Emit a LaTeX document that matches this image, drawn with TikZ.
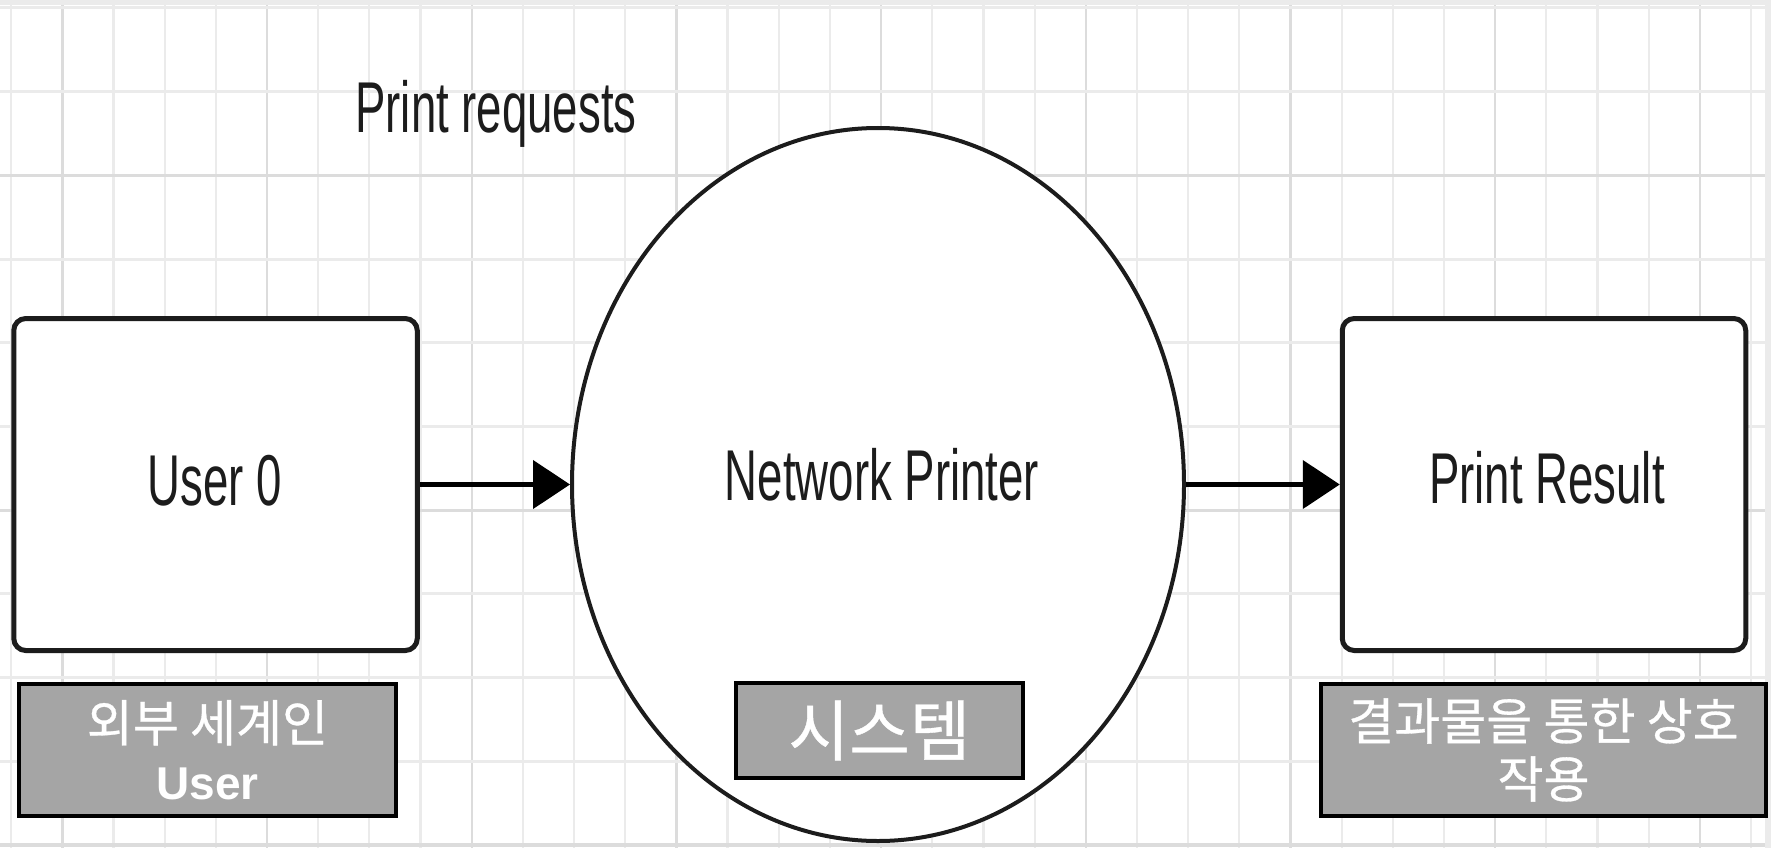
\documentclass[tikz,border=0pt]{standalone}
\usepackage{fontspec}
\setmainfont{Liberation Sans}
\newfontfamily\krfont{Noto Sans CJK KR}[FakeBold=0.6]
\usetikzlibrary{shapes.geometric, arrows.meta}
\definecolor{gridminor}{HTML}{EBEBEB}
\definecolor{gridmajor}{HTML}{DCDCDC}
\definecolor{labelgrey}{HTML}{A5A5A5}
\definecolor{ink}{HTML}{1C1C1C}
\begin{document}
\begin{tikzpicture}[x=1pt,y=-1pt,
  ent/.style={draw=ink, line width=5pt, rounded corners=12pt, fill=white,
    minimum width=403.5pt, minimum height=332pt, inner sep=0pt},
  proc/.style={ellipse, draw=ink, line width=4pt, fill=white,
    minimum width=612pt, minimum height=713pt, inner sep=0pt},
  flow/.style={draw=black, line width=4.5pt, -{Triangle[length=37pt,width=48pt]}},
  basetext/.style={text=ink, font=\fontsize{72}{86}\selectfont, inner sep=0pt, anchor=base},
  tag/.style={draw=black, line width=4.3pt, fill=labelgrey, text=white, inner sep=0pt,
    align=center, font=\fontsize{50}{58}\selectfont},
]
\fill[white] (0,0) rectangle (1771,848);
\useasboundingbox (0,0) rectangle (1771,848);
% grid
\foreach \k in {0,...,34}
  \draw[gridminor, line width=2.2pt] ({11.2+51.17*\k},0) -- ({11.2+51.17*\k},848);
\foreach \k in {1,5,...,33}
  \draw[gridmajor, line width=2.4pt] ({11.2+51.17*\k},0) -- ({11.2+51.17*\k},848);
\foreach \j in {0,...,10}
  \draw[gridminor, line width=3pt] (0,{8+83.7*\j}) -- (1771,{8+83.7*\j});
\foreach \j in {2,6,10}
  \draw[gridmajor, line width=3.2pt] (0,{8+83.7*\j}) -- (1771,{8+83.7*\j});
\fill[gridminor] (0,0) rectangle (1771,5);
\fill[gridminor] (1765,0) rectangle (1771,848);

% shapes
\node[ent] (user) at (215.5,484.5) {};
\node[proc] (printer) at (878,484.5) {};
\node[ent] (result) at (1544,484.5) {};

% texts
\node[basetext] (reqlabel) at (496,132) {\scalebox{0.633}[1]{Print requests}};
\node[basetext] (usertext) at (215,505) {\scalebox{0.633}[1]{User 0}};
\node[basetext] (printertext) at (882,500) {\scalebox{0.633}[1]{Network Printer}};
\node[basetext] (resulttext) at (1547,503) {\scalebox{0.633}[1]{Print Result}};

% connectors
\draw[flow] (user) -- (printer);
\draw[flow] (printer) -- (result);

% grey tags
\node[tag, minimum width=377pt, minimum height=132pt] (tagA) at (207.5,750)
  {{\krfont 외부 세계인}\\{\fontsize{46}{58}\selectfont\bfseries User}};
\node[tag, minimum width=287pt, minimum height=95pt] (tagB) at (879.5,730.5)
  {\krfont\fontsize{66}{72}\selectfont 시스템};
\node[tag, minimum width=445pt, minimum height=132pt] (tagC) at (1543.5,750)
  {{\krfont 결과물을 통한 상호}\\{\krfont 작용}};
\end{tikzpicture}
\end{document}
